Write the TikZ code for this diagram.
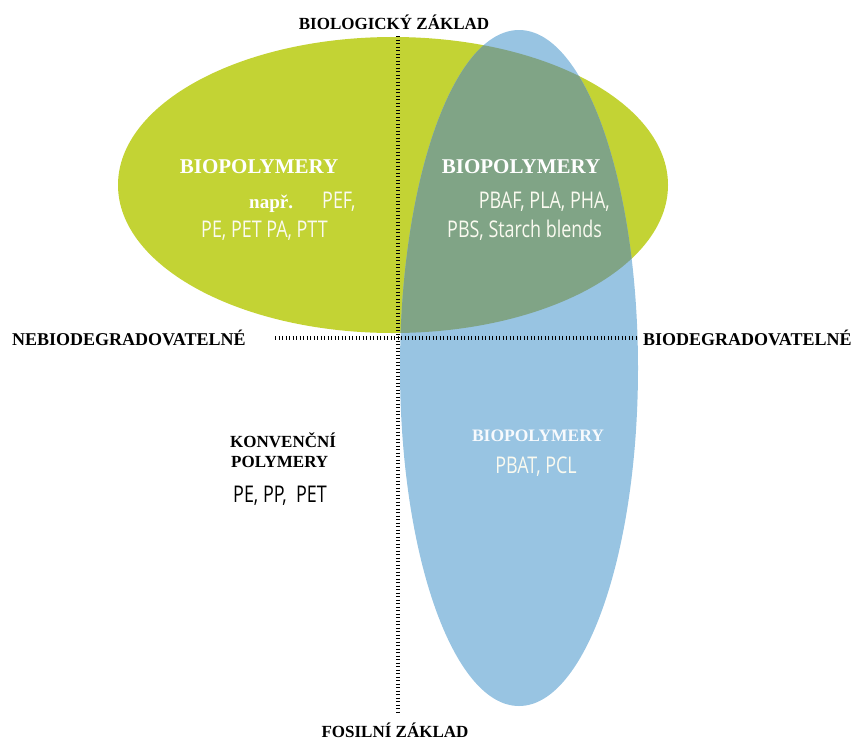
\documentclass[tikz,border=0pt]{standalone}
\usepackage{fontspec}
\setmainfont{Liberation Serif}
\newfontfamily\narrowsans[FakeStretch=0.78]{Open Sans}
\usepackage{xcolor}
\definecolor{limegreen}{RGB}{195,211,52}
\definecolor{skyblue}{RGB}{152,196,226}
\definecolor{mixgreen}{RGB}{128,164,134}
\definecolor{softwhite}{RGB}{250,250,240}

\begin{document}
\begin{tikzpicture}[x=1pt, y=-1pt,
  axislabel/.style={inner sep=0pt, font=\fontsize{17}{20}\selectfont\bfseries, text=black},
  headtxt/.style={inner sep=0pt, font=\fontsize{21}{24}\selectfont\bfseries, text=white},
  polytxt/.style={inner sep=0pt, font=\narrowsans\fontsize{23}{26}\selectfont, text=softwhite},
  axisline/.style={line width=3.5pt, dash pattern=on 1.3pt off 2.2pt, black}
]
\useasboundingbox (0,0) rectangle (852,740);

% the two regions and their overlap
\fill[limegreen] (393,185) ellipse [x radius=275pt, y radius=148pt];
\fill[skyblue] (519,368) ellipse [x radius=119pt, y radius=338pt];
\begin{scope}
  \clip (393,185) ellipse [x radius=275pt, y radius=148pt];
  \fill[mixgreen] (519,368) ellipse [x radius=119pt, y radius=338pt];
\end{scope}

% axes
\coordinate (ytop) at (398,36);
\coordinate (ybot) at (398,712);
\coordinate (xleft) at (275,338);
\coordinate (xright) at (636,338);
\draw[axisline] (ytop) -- (ybot);
\draw[axisline] (xleft) -- (xright);

\node[axislabel, anchor=base] (bio) at (394,29) {BIOLOGICKÝ ZÁKLAD};
\node[axislabel, anchor=base] (fos) at (395,737) {FOSILNÍ ZÁKLAD};
\node[axislabel, anchor=base west, font=\fontsize{18}{21}\selectfont\bfseries] (nebio) at (12,345) {NEBIODEGRADOVATELNÉ};
\node[axislabel, anchor=base west, font=\fontsize{18}{21}\selectfont\bfseries] (biodeg) at (643,345) {BIODEGRADOVATELNÉ};

% upper left
\node[headtxt, anchor=base] (bp1) at (259,173) {BIOPOLYMERY};
\node[headtxt, anchor=base west, font=\fontsize{19}{22}\selectfont\bfseries] (napr) at (249,208) {např.};
\node[polytxt, anchor=base west] (pef) at (322,208) {PEF,};
\node[polytxt, anchor=base west] (pe1) at (201,237) {PE, PET PA, PTT};

% upper right
\node[headtxt, anchor=base] (bp2) at (521,173) {BIOPOLYMERY};
\node[polytxt, anchor=base east] (pbaf) at (610,208) {PBAF, PLA, PHA,};
\node[polytxt, anchor=base west] (pbs) at (447,237) {PBS, Starch blends};

% lower right
\node[headtxt, anchor=base, font=\fontsize{17.5}{20}\selectfont\bfseries, text=white!92!skyblue] (bp3) at (538,441) {BIOPOLYMERY};
\node[polytxt, anchor=base] (pbat) at (536,473) {PBAT, PCL};

% lower left
\node[axislabel, anchor=base west] (konv) at (230,447) {KONVENČNÍ};
\node[axislabel, anchor=base west] (poly) at (231,467) {POLYMERY};
\node[polytxt, anchor=base west, text=black] (pepp) at (233,502) {PE, PP,\ \ PET};
\end{tikzpicture}
\end{document}
